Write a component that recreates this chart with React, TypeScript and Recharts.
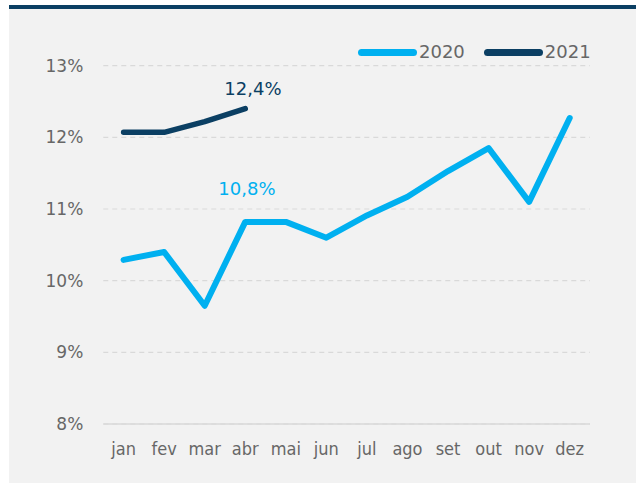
import { LineChart, Line, XAxis, YAxis, CartesianGrid, Legend, LabelList } from 'recharts';

const meses = ['jan', 'fev', 'mar', 'abr', 'mai', 'jun', 'jul', 'ago', 'set', 'out', 'nov', 'dez'];
const taxa2020 = [10.29, 10.4, 9.65, 10.82, 10.82, 10.6, 10.91, 11.17, 11.53, 11.85, 11.1, 12.27];
const taxa2021 = [12.07, 12.07, 12.22, 12.4];
const yTicks = [8, 9, 10, 11, 12, 13];

const CIANO = '#00b0f0';
const MARINHO = '#0b3f63';
const CINZA = '#676767';

const dados = meses.map((mes, i) => ({
  mes,
  a2020: taxa2020[i],
  a2021: i < taxa2021.length ? taxa2021[i] : undefined,
}));

const fmt = (v: number) => v.toFixed(1).replace('.', ',') + '%';

// rótulo só no ponto de abril
const rotulo = (cor: string, dx: number, dy: number) => (props: any) => {
  const { x, y, value, index } = props;
  if (index !== 3 || value == null) return null;
  return (
    <text x={x + dx} y={y - dy} fill={cor} fontSize={18} fontFamily="DejaVu Sans" textAnchor="middle">
      {fmt(value)}
    </text>
  );
};

const legenda = () => (
  <div style={{ display: 'flex', alignItems: 'center', fontFamily: 'DejaVu Sans', fontSize: 18, color: CINZA }}>
    {[
      { nome: '2020', cor: CIANO },
      { nome: '2021', cor: MARINHO },
    ].map((item, i) => (
      <div key={item.nome} style={{ display: 'flex', alignItems: 'center', marginLeft: i ? 19 : 0 }}>
        <span style={{ width: 59, height: 7, borderRadius: 4, background: item.cor, display: 'inline-block' }} />
        <span style={{ marginLeft: 2, lineHeight: '20px' }}>{item.nome}</span>
      </div>
    ))}
  </div>
);

export default function App() {
  return (
    <div style={{ position: 'absolute', left: 0, top: 0, width: 636, height: 483 }}>
      <div
        style={{
          position: 'absolute',
          left: 9,
          top: 5,
          width: 627,
          height: 474,
          background: '#f2f2f2',
          borderTop: `4px solid ${MARINHO}`,
        }}
      />
      <div style={{ position: 'absolute', left: 0, top: 0 }}>
        <LineChart width={636} height={483} data={dados} margin={{ top: 65.7, right: 46, bottom: 29, left: 43.3 }}>
          <CartesianGrid vertical={false} stroke="#d9d9d9" strokeDasharray="5 4" strokeWidth={1.2} />
          <XAxis
            dataKey="mes"
            height={30}
            padding={{ left: 20.3, right: 20.3 }}
            axisLine={{ stroke: '#d9d9d9', strokeWidth: 1.5 }}
            tickLine={false}
            tickSize={0}
            tickMargin={18}
            interval={0}
            tick={{ fill: CINZA, fontSize: 18, fontFamily: 'DejaVu Sans', fontStretch: 'condensed' }}
          />
          <YAxis
            width={60}
            domain={[8, 13]}
            ticks={yTicks}
            axisLine={false}
            tickLine={false}
            tickSize={0}
            tickMargin={20}
            tickFormatter={(v) => `${v}%`}
            tick={{ fill: CINZA, fontSize: 17, fontFamily: 'DejaVu Sans' }}
          />
          <Legend
            content={legenda}
            layout="horizontal"
            verticalAlign="middle"
            wrapperStyle={{ position: 'absolute', left: 358, top: 42, width: 'auto' }}
          />
          <Line
            dataKey="a2020"
            name="2020"
            type="linear"
            stroke={CIANO}
            strokeWidth={6}
            strokeLinecap="round"
            strokeLinejoin="round"
            dot={false}
            activeDot={false}
            isAnimationActive={false}
          >
            <LabelList dataKey="a2020" content={rotulo(CIANO, 1.7, 26.7)} />
          </Line>
          <Line
            dataKey="a2021"
            name="2021"
            type="linear"
            stroke={MARINHO}
            strokeWidth={5.5}
            strokeLinecap="round"
            strokeLinejoin="round"
            dot={false}
            activeDot={false}
            isAnimationActive={false}
          >
            <LabelList dataKey="a2021" content={rotulo(MARINHO, 7.7, 14)} />
          </Line>
        </LineChart>
      </div>
    </div>
  );
}
